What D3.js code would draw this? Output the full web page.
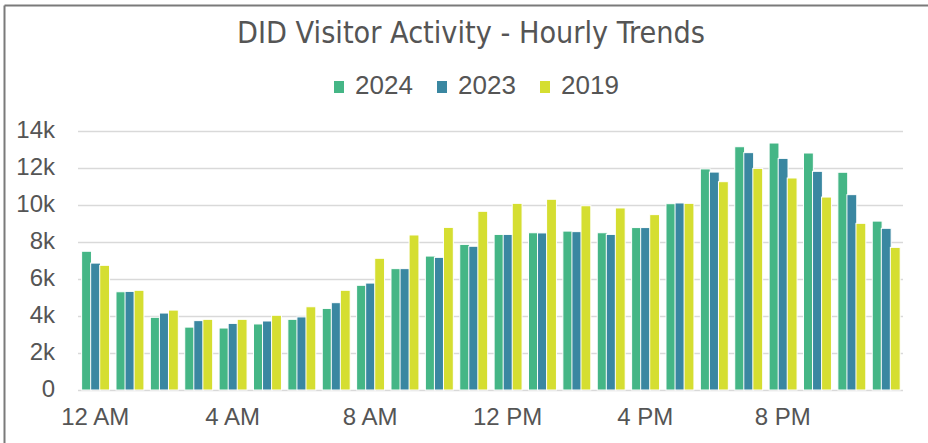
<!DOCTYPE html>
<html>
<head>
<meta charset="utf-8">
<script src="https://cdn.jsdelivr.net/npm/d3@7"></script>
<style>
  body { margin: 0; background: #fff; }
  svg { display: block; }
</style>
</head>
<body>
<svg width="928" height="443"></svg>
<script>
// Hourly visitor counts
var hours = ['12 AM','1 AM','2 AM','3 AM','4 AM','5 AM','6 AM','7 AM','8 AM','9 AM','10 AM','11 AM',
             '12 PM','1 PM','2 PM','3 PM','4 PM','5 PM','6 PM','7 PM','8 PM','9 PM','10 PM','11 PM'];
var years = ['2024', '2023', '2019'];
var v2024 = [7500, 5310, 3930, 3400, 3350, 3570, 3820, 4410, 5660, 6560, 7240, 7870,
             8410, 8500, 8590, 8500, 8780, 10070, 11950, 13150, 13350, 12810, 11770, 9130];
var v2023 = [6860, 5330, 4160, 3750, 3600, 3730, 3950, 4720, 5780, 6560, 7170, 7770,
             8410, 8490, 8560, 8410, 8780, 10110, 11780, 12830, 12520, 11820, 10560, 8740];
var v2019 = [6740, 5390, 4320, 3820, 3820, 4040, 4500, 5390, 7120, 8380, 8790, 9660,
             10090, 10310, 9960, 9840, 9480, 10090, 11260, 11980, 11460, 10430, 9010, 7710];
var xTicks = ['12 AM', '4 AM', '8 AM', '12 PM', '4 PM', '8 PM'];
var yTicks = [0, 2000, 4000, 6000, 8000, 10000, 12000, 14000];
var colors = ['#45b686', '#3a87a1', '#d5de31'];

var series = [v2024, v2023, v2019];
var rows = hours.map(function(h, i) {
    return { hour: h, values: years.map(function(y, j) { return { year: y, idx: j, value: series[j][i] }; }) };
});

var svg = d3.select('svg');
var textColor = '#555555';
var axisFont = '"Liberation Sans", Arial, sans-serif';

// frame (top and left edges only)
svg.append('line').attr('x1', 4.5).attr('x2', 928).attr('y1', 5.5).attr('y2', 5.5)
    .attr('stroke', '#7a7a7a').attr('stroke-width', 2);
svg.append('line').attr('x1', 4.5).attr('x2', 4.5).attr('y1', 5.5).attr('y2', 443)
    .attr('stroke', '#7a7a7a').attr('stroke-width', 2);

var x = d3.scaleBand().domain(hours).range([78, 903]).paddingInner(0.21).paddingOuter(0.105);
var xSub = d3.scaleBand().domain(years).range([0, x.bandwidth()]);
var y = d3.scaleLinear().domain([0, 14000]).range([390, 131]);
var color = d3.scaleOrdinal().domain(years).range(colors);

// gridlines
svg.append('g').selectAll('line')
    .data(yTicks)
    .join('line')
    .attr('x1', 78).attr('x2', 903)
    .attr('y1', function(d) { return Math.round(y(d)) + 0.5; })
    .attr('y2', function(d) { return Math.round(y(d)) + 0.5; })
    .attr('stroke', '#d9d9d9').attr('stroke-width', 1.5);

// y labels
svg.append('g').selectAll('text')
    .data(yTicks)
    .join('text')
    .attr('x', 55)
    .attr('y', function(d) { return y(d) + 6.5; })
    .attr('text-anchor', 'end')
    .attr('font-family', axisFont).attr('font-size', 24).attr('fill', textColor)
    .text(function(d) { return d === 0 ? '0' : (d / 1000) + 'k'; });

// x labels
svg.append('g').selectAll('text')
    .data(xTicks)
    .join('text')
    .attr('x', function(d) { return x(d) + x.bandwidth() / 2; })
    .attr('y', 425)
    .attr('text-anchor', 'middle')
    .attr('font-family', axisFont).attr('font-size', 24).attr('fill', textColor)
    .text(function(d) { return d; });

// bars
var groups = svg.append('g').selectAll('g')
    .data(rows)
    .join('g')
    .attr('transform', function(d) { return 'translate(' + x(d.hour) + ',0)'; });

groups.selectAll('rect')
    .data(function(d) { return d.values; })
    .join('rect')
    .attr('x', function(d) { return xSub(d.year); })
    .attr('y', function(d) { return y(d.value); })
    .attr('width', xSub.bandwidth() + 0.8)
    .attr('height', function(d) { return y(0) - y(d.value); })
    .attr('fill', function(d) { return color(d.year); })
    .attr('stroke', '#fff').attr('stroke-width', 1);

// title
svg.append('text')
    .attr('x', 471).attr('y', 43)
    .attr('text-anchor', 'middle')
    .attr('font-family', '"Liberation Sans Narrow", "DejaVu Sans Condensed", Arial, sans-serif')
    .attr('font-size', 30).attr('fill', textColor)
    .attr('textLength', 468).attr('lengthAdjust', 'spacingAndGlyphs')
    .text('DID Visitor Activity - Hourly Trends');

// legend
var legend = svg.append('g').selectAll('g')
    .data(years)
    .join('g')
    .attr('transform', function(d, i) { return 'translate(' + (334 + i * 103) + ',0)'; });
legend.append('rect')
    .attr('x', 0).attr('y', 81).attr('width', 10).attr('height', 12)
    .attr('fill', function(d) { return color(d); });
legend.append('text')
    .attr('x', 21).attr('y', 93.5)
    .attr('font-family', axisFont).attr('font-size', 26).attr('fill', textColor)
    .text(function(d) { return d; });
</script>
</body>
</html>
